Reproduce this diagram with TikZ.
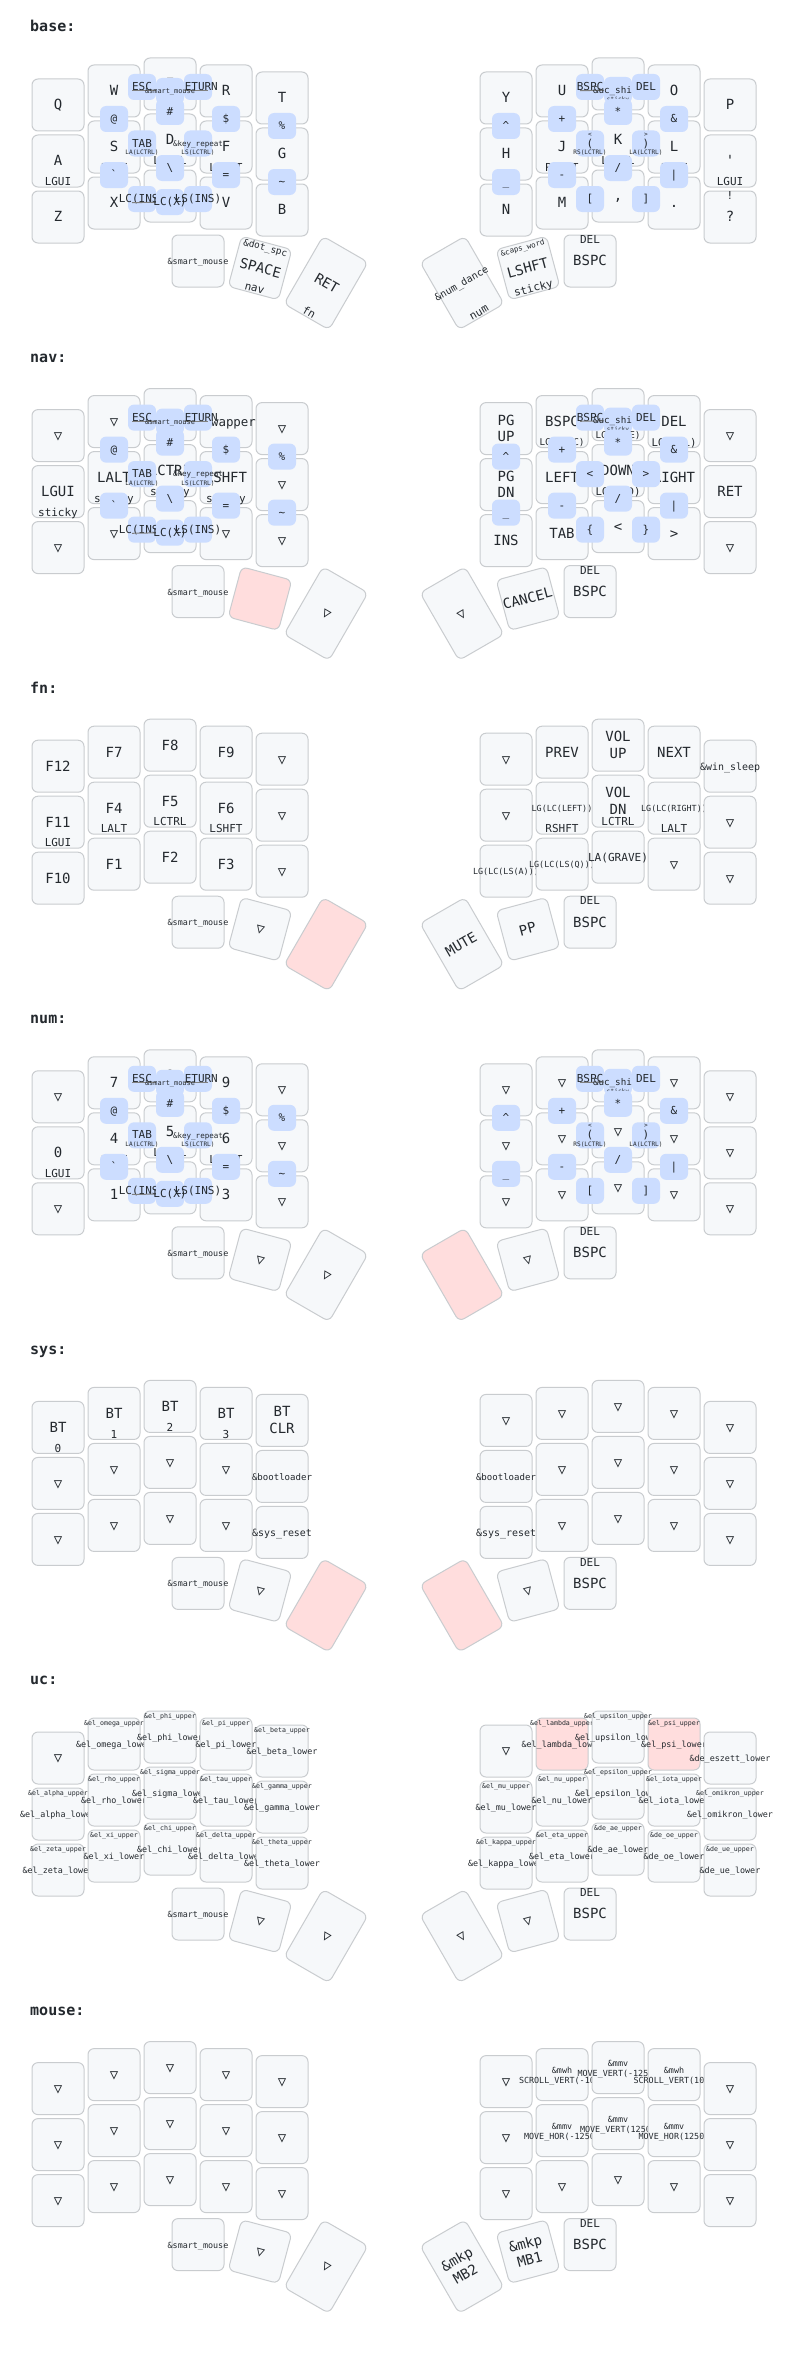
\documentclass[tikz,border=0pt]{standalone}
\usepackage{fontspec}
\usepackage{graphicx}
\usepackage{tikz}
\usetikzlibrary{calc}
\newfontfamily\kfont{DejaVu Sans Mono}

\definecolor{kfill}{HTML}{F6F8FA}
\definecolor{kstroke}{HTML}{C9CCCF}
\definecolor{hfill}{HTML}{FFDDDD}
\definecolor{cfill}{HTML}{CCDDFF}
\definecolor{kink}{HTML}{24292E}

\tikzset{
	keybox/.style={draw=kstroke,line width=1pt,rounded corners=6pt,minimum width=52pt,minimum height=52pt,inner sep=0pt,outer sep=0pt},
	combobox/.style={fill=cfill,rounded corners=6pt,minimum width=28pt,minimum height=26pt,inner sep=0pt,outer sep=0pt},
	lbl/.style={inner sep=0pt,outer sep=0pt,text=kink,font=\kfont},
	dendron/.style={draw=gray,line width=1pt},
	ttl/.style={anchor=base west,inner sep=0pt,text=kink,font=\kfont\bfseries\fontsize{15}{18}\selectfont},
}

% key centres: rows 0-2 (left, right), then thumbs
\def\KX{{58,114,170,226,282,506,562,618,674,730,58,114,170,226,282,506,562,618,674,730,58,114,170,226,282,506,562,618,674,730,198,260,326,462,528,590}}
\def\KY{{105,91,84,91,98,98,91,84,91,105,161,147,140,147,154,154,147,140,147,161,217,203,196,203,210,210,203,196,203,217,261,268,283,283,268,261}}
\def\TR{{0,-15,-30,30,15,0}}
\def\TH{{52,52,78,78,52,52}}

\newcommand\trn{▽}
\newsavebox\kbbox
\newlength\kbw
\newcommand\fitlbl[3]{%
	\sbox\kbbox{\kfont\fontsize{#1}{\fpeval{1.2*#1}}\selectfont
		\begin{tabular}{@{}c@{}}#3\end{tabular}}%
	\setlength\kbw{\wd\kbbox}%
	\ifdim\kbw>#2pt
	\pgfmathsetmacro\kbsc{max(0.6,#2/\kbw)}%
	\scalebox{\kbsc}{\usebox\kbbox}%
	\else\usebox\kbbox\fi}

\newcommand\kkey[5]{%
	\pgfmathsetmacro\kx{\KX[#1]}%
	\pgfmathsetmacro\ky{\KY[#1]}%
	\ifnum#1<30 \def\kr{0}\def\kh{52}%
	\else\pgfmathsetmacro\kr{\TR[#1-30]}\pgfmathsetmacro\kh{\TH[#1-30]}\fi
	\node[keybox,fill=#2,rotate=\kr,minimum height=\kh pt] (k\lay-#1) at (\kx,\ky) {};
	\node[lbl,rotate=\kr] (k\lay-#1t) at ([yshift=-1.5pt]k\lay-#1.center) {\fitlbl{14}{60}{#3}};
	\node[lbl,rotate=\kr] (k\lay-#1h) at ($(k\lay-#1.south)!4pt!(k\lay-#1.center)$) {\fitlbl{11}{45}{#4}};
	\node[lbl,rotate=\kr] (k\lay-#1s) at ($(k\lay-#1.north)!6pt!(k\lay-#1.center)$) {\fitlbl{11}{45}{#5}};
}
\newcommand\kk[4]{\kkey{#1}{kfill}{#2}{#3}{#4}}
\newcommand\hk[1]{\kkey{#1}{hfill}{}{}{}}
\newcommand\tk[1]{\kkey{#1}{kfill}{\trn}{}{}}
\newcommand\uck[4]{\kkey{#1}{#2}{\&#3\_#4\_lower}{}{\&#3\_#4\_upper}}

\newcommand\cmb[6]{%
	\node[combobox] (c\lay-#1) at (#2,#3) {};
	\node[lbl] (c\lay-#1t) at ([yshift=-1pt]c\lay-#1.center) {\fitlbl{11}{50}{#4}};
	\node[lbl] (c\lay-#1h) at ([yshift=-9.8pt]c\lay-#1.center) {\fitlbl{6.1}{200}{#5}};
	\node[lbl] (c\lay-#1s) at ([yshift=8.8pt]c\lay-#1.center) {\fitlbl{6.1}{200}{#6}};
}

\newcommand\leftcombos{%
	\cmb{esc}{142}{87}{ESC}{}{}
	\cmb{ret}{198}{87}{RETURN}{}{}
	\coordinate (d\lay-sm) at (170,91);
	\draw[dendron] (d\lay-sm) -- ($(k\lay-1.center)!18pt!(d\lay-sm)$);
	\draw[dendron] (d\lay-sm) -- ($(k\lay-3.center)!18pt!(d\lay-sm)$);
	\cmb{sm}{170}{91}{\&smart\_mouse}{}{}
	\cmb{hash}{170}{112}{\#}{}{}
	\cmb{at}{114}{119}{@}{}{}
	\cmb{dol}{226}{119}{\$}{}{}
	\cmb{pct}{282}{126}{\%}{}{}
	\cmb{tab}{142}{143.5}{TAB}{LA(LCTRL)}{}
	\cmb{rep}{198}{143.5}{\&key\_repeat}{LS(LCTRL)}{}
	\cmb{grv}{114}{175}{`}{}{}
	\cmb{bsl}{170}{168}{\textbackslash}{}{}
	\cmb{eq}{226}{175}{=}{}{}
	\cmb{tld}{282}{182}{\textasciitilde}{}{}
	\cmb{lci}{142}{199}{LC(INS)}{}{}
	\coordinate (d\lay-lcx) at (170,202);
	\draw[dendron] (d\lay-lcx) -- ($(k\lay-21.center)!18pt!(d\lay-lcx)$);
	\draw[dendron] (d\lay-lcx) -- ($(k\lay-23.center)!18pt!(d\lay-lcx)$);
	\cmb{lcx}{170}{202}{LC(X)}{}{}
	\cmb{lsi}{198}{199}{LS(INS)}{}{}
}
\newcommand\rightcombos[8]{%
	\cmb{bsp}{590}{87}{BSPC}{}{}
	\coordinate (d\lay-uc) at (618,90);
	\draw[dendron] (d\lay-uc) -- ($(k\lay-6.center)!18pt!(d\lay-uc)$);
	\draw[dendron] (d\lay-uc) -- ($(k\lay-8.center)!18pt!(d\lay-uc)$);
	\cmb{uc}{618}{90}{\&uc\_shift}{sticky}{}
	\cmb{del}{646}{87}{DEL}{}{}
	\cmb{ast}{618}{112}{*}{}{}
	\cmb{pls}{562}{119}{+}{}{}
	\cmb{amp}{674}{119}{\&}{}{}
	\cmb{crt}{506}{126}{\textasciicircum}{}{}
	\cmb{lp}{590}{143.5}{#1}{#2}{#3}
	\cmb{rp}{646}{143.5}{#4}{#5}{#6}
	\cmb{mns}{562}{175}{-}{}{}
	\cmb{sls}{618}{168}{/}{}{}
	\cmb{pip}{674}{175}{|}{}{}
	\cmb{und}{506}{182}{\_}{}{}
	\cmb{lb}{590}{199}{#7}{}{}
	\cmb{rb}{646}{199}{#8}{}{}
}

\begin{document}
\begin{tikzpicture}[x=1pt,y=-1pt]
	\fill[white] (0,0) rectangle (788,2371);
	\useasboundingbox (0,0) rectangle (788,2371);
	
	% base
	\def\lay{0}
	\begin{scope}[shift={(0,0)}]
		\node[ttl] (t\lay) at (30,31.8) {base:};
		\kk0{Q}{}{} \kk1{W}{}{} \kk2{E}{}{} \kk3{R}{}{} \kk4{T}{}{}
		\kk5{Y}{}{} \kk6{U}{}{} \kk7{I}{}{} \kk8{O}{}{} \kk9{P}{}{}
		\kk{10}{A}{LGUI}{} \kk{11}{S}{LALT}{} \kk{12}{D}{LCTRL}{} \kk{13}{F}{LSHFT}{} \kk{14}{G}{}{}
		\kk{15}{H}{}{} \kk{16}{J}{RSHFT}{} \kk{17}{K}{LCTRL}{} \kk{18}{L}{LALT}{} \kk{19}{'}{LGUI}{}
		\kk{20}{Z}{}{} \kk{21}{X}{}{} \kk{22}{C}{}{} \kk{23}{V}{}{} \kk{24}{B}{}{}
		\kk{25}{N}{}{} \kk{26}{M}{}{} \kk{27}{,}{}{} \kk{28}{.}{}{} \kk{29}{?}{}{!}
		\kk{30}{\&smart\_mouse}{}{} \kk{31}{SPACE}{nav}{\&dot\_spc} \kk{32}{RET}{fn}{}
		\kk{33}{\&num\_dance}{num}{} \kk{34}{LSHFT}{sticky}{\&caps\_word} \kk{35}{BSPC}{}{DEL}
		\leftcombos
		\rightcombos{(}{RS(LCTRL)}{<}{)}{LA(LCTRL)}{>}{[}{]}
	\end{scope}
	
	% nav
	\def\lay{1}
	\begin{scope}[shift={(0,330.6)}]
		\node[ttl] (t\lay) at (30,31.8) {nav:};
		\tk0 \tk1 \tk2 \kk3{\&swapper}{}{} \tk4
		\kk5{PG\\UP}{}{} \kk6{BSPC}{LC(BSPC)}{} \kk7{UP}{LC(HOME)}{} \kk8{DEL}{LC(DEL)}{} \tk9
		\kk{10}{LGUI}{sticky}{} \kk{11}{LALT}{sticky}{} \kk{12}{LCTRL}{sticky}{} \kk{13}{LSHFT}{sticky}{} \tk{14}
		\kk{15}{PG\\DN}{}{} \kk{16}{LEFT}{}{} \kk{17}{DOWN}{LC(END)}{} \kk{18}{RIGHT}{}{} \kk{19}{RET}{}{}
		\foreach \i in {20,...,24}{\tk{\i}}
		\kk{25}{INS}{}{} \kk{26}{TAB}{}{} \kk{27}{<}{}{} \kk{28}{>}{}{} \tk{29}
		\kk{30}{\&smart\_mouse}{}{} \hk{31} \tk{32} \tk{33} \kk{34}{CANCEL}{}{} \kk{35}{BSPC}{}{DEL}
		\leftcombos
		\rightcombos{<}{}{}{>}{}{}{\{}{\}}
	\end{scope}
	
	% fn
	\def\lay{2}
	\begin{scope}[shift={(0,661.2)}]
		\node[ttl] (t\lay) at (30,31.8) {fn:};
		\kk0{F12}{}{} \kk1{F7}{}{} \kk2{F8}{}{} \kk3{F9}{}{} \tk4
		\tk5 \kk6{PREV}{}{} \kk7{VOL\\UP}{}{} \kk8{NEXT}{}{} \kk9{\&win\_sleep}{}{}
		\kk{10}{F11}{LGUI}{} \kk{11}{F4}{LALT}{} \kk{12}{F5}{LCTRL}{} \kk{13}{F6}{LSHFT}{} \tk{14}
		\tk{15} \kk{16}{LG(LC(LEFT))}{RSHFT}{} \kk{17}{VOL\\DN}{LCTRL}{} \kk{18}{LG(LC(RIGHT))}{LALT}{} \tk{19}
		\kk{20}{F10}{}{} \kk{21}{F1}{}{} \kk{22}{F2}{}{} \kk{23}{F3}{}{} \tk{24}
		\kk{25}{LG(LC(LS(A)))}{}{} \kk{26}{LG(LC(LS(Q)))}{}{} \kk{27}{LA(GRAVE)}{}{} \tk{28} \tk{29}
		\kk{30}{\&smart\_mouse}{}{} \tk{31} \hk{32} \kk{33}{MUTE}{}{} \kk{34}{PP}{}{} \kk{35}{BSPC}{}{DEL}
	\end{scope}
	
	% num
	\def\lay{3}
	\begin{scope}[shift={(0,991.8)}]
		\node[ttl] (t\lay) at (30,31.8) {num:};
		\tk0 \kk1{7}{}{} \kk2{8}{}{} \kk3{9}{}{} \tk4
		\foreach \i in {5,...,9}{\tk{\i}}
		\kk{10}{0}{LGUI}{} \kk{11}{4}{LALT}{} \kk{12}{5}{LCTRL}{} \kk{13}{6}{LSHFT}{} \tk{14}
		\foreach \i in {15,...,19}{\tk{\i}}
		\tk{20} \kk{21}{1}{}{} \kk{22}{2}{}{} \kk{23}{3}{}{} \tk{24}
		\foreach \i in {25,...,29}{\tk{\i}}
		\kk{30}{\&smart\_mouse}{}{} \tk{31} \tk{32} \hk{33} \tk{34} \kk{35}{BSPC}{}{DEL}
		\leftcombos
		\rightcombos{(}{RS(LCTRL)}{<}{)}{LA(LCTRL)}{>}{[}{]}
	\end{scope}
	
	% sys
	\def\lay{4}
	\begin{scope}[shift={(0,1322.4)}]
		\node[ttl] (t\lay) at (30,31.8) {sys:};
		\kk0{BT}{0}{} \kk1{BT}{1}{} \kk2{BT}{2}{} \kk3{BT}{3}{} \kk4{BT\\CLR}{}{}
		\foreach \i in {5,...,13}{\tk{\i}}
		\kk{14}{\&bootloader}{}{} \kk{15}{\&bootloader}{}{}
		\foreach \i in {16,...,23}{\tk{\i}}
		\kk{24}{\&sys\_reset}{}{} \kk{25}{\&sys\_reset}{}{}
		\foreach \i in {26,...,29}{\tk{\i}}
		\kk{30}{\&smart\_mouse}{}{} \tk{31} \hk{32} \hk{33} \tk{34} \kk{35}{BSPC}{}{DEL}
	\end{scope}
	
	% uc
	\def\lay{5}
	\begin{scope}[shift={(0,1653)}]
		\node[ttl] (t\lay) at (30,31.8) {uc:};
		\tk0 \uck1{kfill}{el}{omega} \uck2{kfill}{el}{phi} \uck3{kfill}{el}{pi} \uck4{kfill}{el}{beta}
		\tk5 \uck6{hfill}{el}{lambda} \uck7{kfill}{el}{upsilon} \uck8{hfill}{el}{psi} \kk9{\&de\_eszett\_lower}{}{}
		\uck{10}{kfill}{el}{alpha} \uck{11}{kfill}{el}{rho} \uck{12}{kfill}{el}{sigma} \uck{13}{kfill}{el}{tau} \uck{14}{kfill}{el}{gamma}
		\uck{15}{kfill}{el}{mu} \uck{16}{kfill}{el}{nu} \uck{17}{kfill}{el}{epsilon} \uck{18}{kfill}{el}{iota} \uck{19}{kfill}{el}{omikron}
		\uck{20}{kfill}{el}{zeta} \uck{21}{kfill}{el}{xi} \uck{22}{kfill}{el}{chi} \uck{23}{kfill}{el}{delta} \uck{24}{kfill}{el}{theta}
		\uck{25}{kfill}{el}{kappa} \uck{26}{kfill}{el}{eta} \uck{27}{kfill}{de}{ae} \uck{28}{kfill}{de}{oe} \uck{29}{kfill}{de}{ue}
		\kk{30}{\&smart\_mouse}{}{} \tk{31} \tk{32} \tk{33} \tk{34} \kk{35}{BSPC}{}{DEL}
	\end{scope}
	
	% mouse
	\def\lay{6}
	\begin{scope}[shift={(0,1983.6)}]
		\node[ttl] (t\lay) at (30,31.8) {mouse:};
		\foreach \i in {0,...,5}{\tk{\i}}
		\kk6{\&mwh\\SCROLL\_VERT(-100)}{}{} \kk7{\&mmv\\MOVE\_VERT(-1250)}{}{} \kk8{\&mwh\\SCROLL\_VERT(100)}{}{} \tk9
		\foreach \i in {10,...,15}{\tk{\i}}
		\kk{16}{\&mmv\\MOVE\_HOR(-1250)}{}{} \kk{17}{\&mmv\\MOVE\_VERT(1250)}{}{} \kk{18}{\&mmv\\MOVE\_HOR(1250)}{}{} \tk{19}
		\foreach \i in {20,...,29}{\tk{\i}}
		\kk{30}{\&smart\_mouse}{}{} \tk{31} \tk{32} \kk{33}{\&mkp\\MB2}{}{} \kk{34}{\&mkp\\MB1}{}{} \kk{35}{BSPC}{}{DEL}
	\end{scope}
\end{tikzpicture}
\end{document}
